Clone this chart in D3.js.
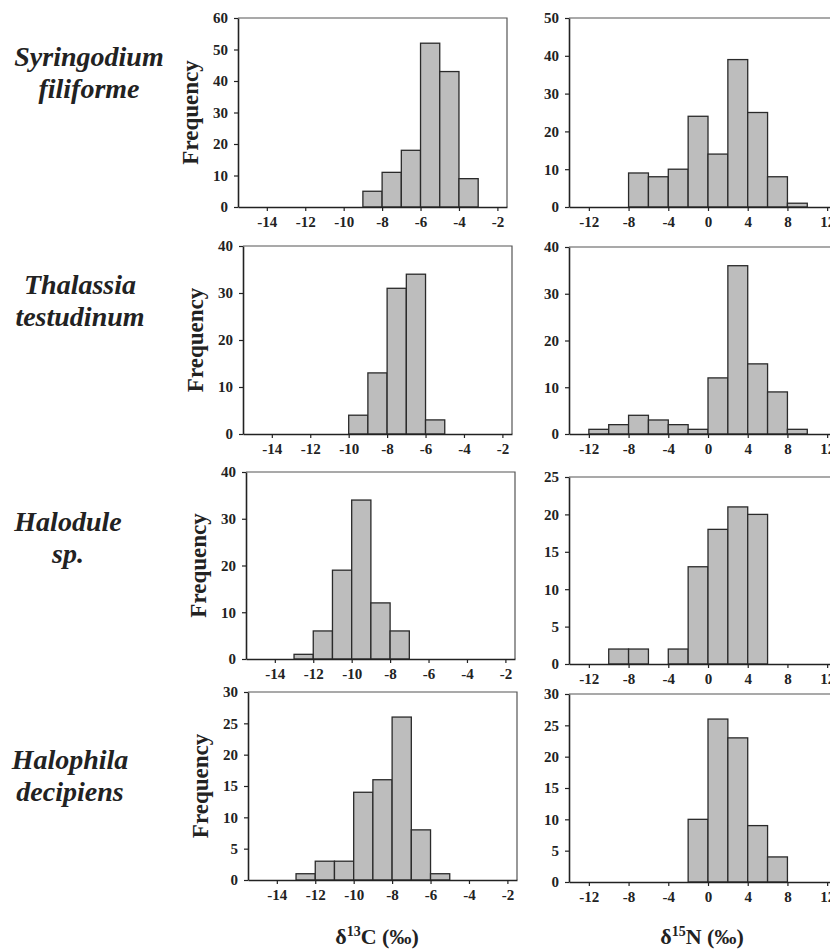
<!DOCTYPE html>
<html>
<head>
<meta charset="utf-8">
<script src="https://cdn.jsdelivr.net/npm/d3@7"></script>
<style>
  body { margin: 0; background: #fff; }
  svg { display: block; }
  text { font-family: 'Liberation Serif', 'Times New Roman', serif; font-weight: bold; fill: #222; }
</style>
</head>
<body>
<svg id="chart" width="830" height="949"></svg>
<script>
// species names (two lines each)
const speciesLine1 = ['Syringodium', 'Thalassia', 'Halodule', 'Halophila'];
const speciesLine2 = ['filiforme', 'testudinum', 'sp.', 'decipiens'];

// d13C histograms, bin width 1 (start of each bin)
const cBinStarts = [
    [-9, -8, -7, -6, -5, -4],
    [-10, -9, -8, -7, -6],
    [-13, -12, -11, -10, -9, -8],
    [-13, -12, -11, -10, -9, -8, -7, -6]
];
const cCounts = [
    [5, 11, 18, 52, 43, 9],
    [4, 13, 31, 34, 3],
    [1, 6, 19, 34, 12, 6],
    [1, 3, 3, 14, 16, 26, 8, 1]
];
const cYMax = [60, 40, 40, 30];
const cYStep = [10, 10, 10, 5];
const cXTicks = [-14, -12, -10, -8, -6, -4, -2];

// d15N histograms, bin width 2
const nBinStarts = [
    [-8, -6, -4, -2, 0, 2, 4, 6, 8],
    [-12, -10, -8, -6, -4, -2, 0, 2, 4, 6, 8],
    [-10, -8, -4, -2, 0, 2, 4],
    [-2, 0, 2, 4, 6]
];
const nCounts = [
    [9, 8, 10, 24, 14, 39, 25, 8, 1],
    [1, 2, 4, 3, 2, 1, 12, 36, 15, 9, 1],
    [2, 2, 2, 13, 18, 21, 20],
    [10, 26, 23, 9, 4]
];
const nYMax = [50, 40, 25, 30];
const nYStep = [10, 10, 5, 5];
const nXTicks = [-12, -8, -4, 0, 4, 8, 12];

const svg = d3.select('#chart');

// panel boxes (left, top, bottom)
const leftBoxes = [
    { x: 238, top: 18, bottom: 207 },
    { x: 243, top: 246, bottom: 434 },
    { x: 246, top: 472, bottom: 659 },
    { x: 248, top: 692, bottom: 880 }
];
const rightBoxes = [
    { x: 569, top: 18, bottom: 207 },
    { x: 569, top: 247, bottom: 434 },
    { x: 569, top: 477, bottom: 664 },
    { x: 569, top: 694, bottom: 882 }
];

function drawPanel(box, width, xDomain, xTicks, binStarts, counts, binWidth, yMax, yStep, showFreq) {
    const h = box.bottom - box.top;
    const g = svg.append('g').attr('transform', `translate(${box.x}, ${box.top})`);

    const x = d3.scaleLinear().domain(xDomain).range([0, width]);
    const y = d3.scaleLinear().domain([0, yMax]).range([h, 0]);

    // frame top + right
    g.append('path')
        .attr('d', `M0,0H${width}V${h}`)
        .attr('fill', 'none')
        .attr('stroke', '#555')
        .attr('stroke-width', 1.2);

    // bars
    g.selectAll('.bar')
        .data(binStarts.map((s, i) => ({ s: s, v: counts[i] })))
        .enter()
        .append('rect')
        .attr('x', d => x(d.s))
        .attr('y', d => y(d.v))
        .attr('width', d => x(d.s + binWidth) - x(d.s))
        .attr('height', d => h - y(d.v))
        .attr('fill', '#bdbdbd')
        .attr('stroke', '#2a2a2a')
        .attr('stroke-width', 1.3);

    // x axis (plain hyphen for negatives, like the original)
    const xa = g.append('g')
        .attr('transform', `translate(0, ${h})`)
        .call(d3.axisBottom(x).tickValues(xTicks).tickFormat(d => String(d))
            .tickSize(4).tickPadding(5).tickSizeOuter(0));
    xa.select('.domain').attr('stroke', '#222').attr('stroke-width', 1.6);
    xa.selectAll('line').attr('stroke', '#222').attr('stroke-width', 1.2);
    xa.selectAll('text').style('font-size', '15px').attr('fill', '#222');

    // y axis
    const ya = g.append('g')
        .call(d3.axisLeft(y).tickValues(d3.range(0, yMax + 0.1, yStep)).tickFormat(d => String(d))
            .tickSize(4).tickPadding(6).tickSizeOuter(0));
    ya.select('.domain').attr('stroke', '#222').attr('stroke-width', 1.6);
    ya.selectAll('line').attr('stroke', '#222').attr('stroke-width', 1.2);
    ya.selectAll('text').style('font-size', '15px').attr('fill', '#222');

    if (showFreq) {
        g.append('text')
            .attr('transform', `translate(${-40}, ${h / 2}) rotate(-90)`)
            .attr('text-anchor', 'middle')
            .style('font-size', '23px')
            .text('Frequency');
    }
}

for (let i = 0; i < 4; i++) {
    drawPanel(leftBoxes[i], 269, [-15.5, -1.5], cXTicks, cBinStarts[i], cCounts[i], 1, cYMax[i], cYStep[i], true);
    drawPanel(rightBoxes[i], 278, [-14, 14], nXTicks, nBinStarts[i], nCounts[i], 2, nYMax[i], nYStep[i], false);
}

// species labels
const labelY = [57, 285, 522, 760];
const labelX = [89, 80, 68, 70];
for (let i = 0; i < 4; i++) {
    const t = svg.append('text')
        .attr('text-anchor', 'middle')
        .style('font-size', '28px')
        .style('font-style', 'italic');
    t.append('tspan').attr('x', labelX[i]).attr('y', labelY[i] + 9).text(speciesLine1[i]);
    t.append('tspan').attr('x', labelX[i]).attr('y', labelY[i] + 41).text(speciesLine2[i]);
}

// axis titles
function axisTitle(cx, iso, el) {
    const t = svg.append('text')
        .attr('x', cx)
        .attr('y', 944)
        .attr('text-anchor', 'middle')
        .style('font-size', '22px');
    t.append('tspan').text('δ');
    t.append('tspan').attr('dy', -8).style('font-size', '14px').text(iso);
    t.append('tspan').attr('dy', 8).text(el + ' (‰)');
}
axisTitle(377, '13', 'C');
axisTitle(702, '15', 'N');
</script>
</body>
</html>
